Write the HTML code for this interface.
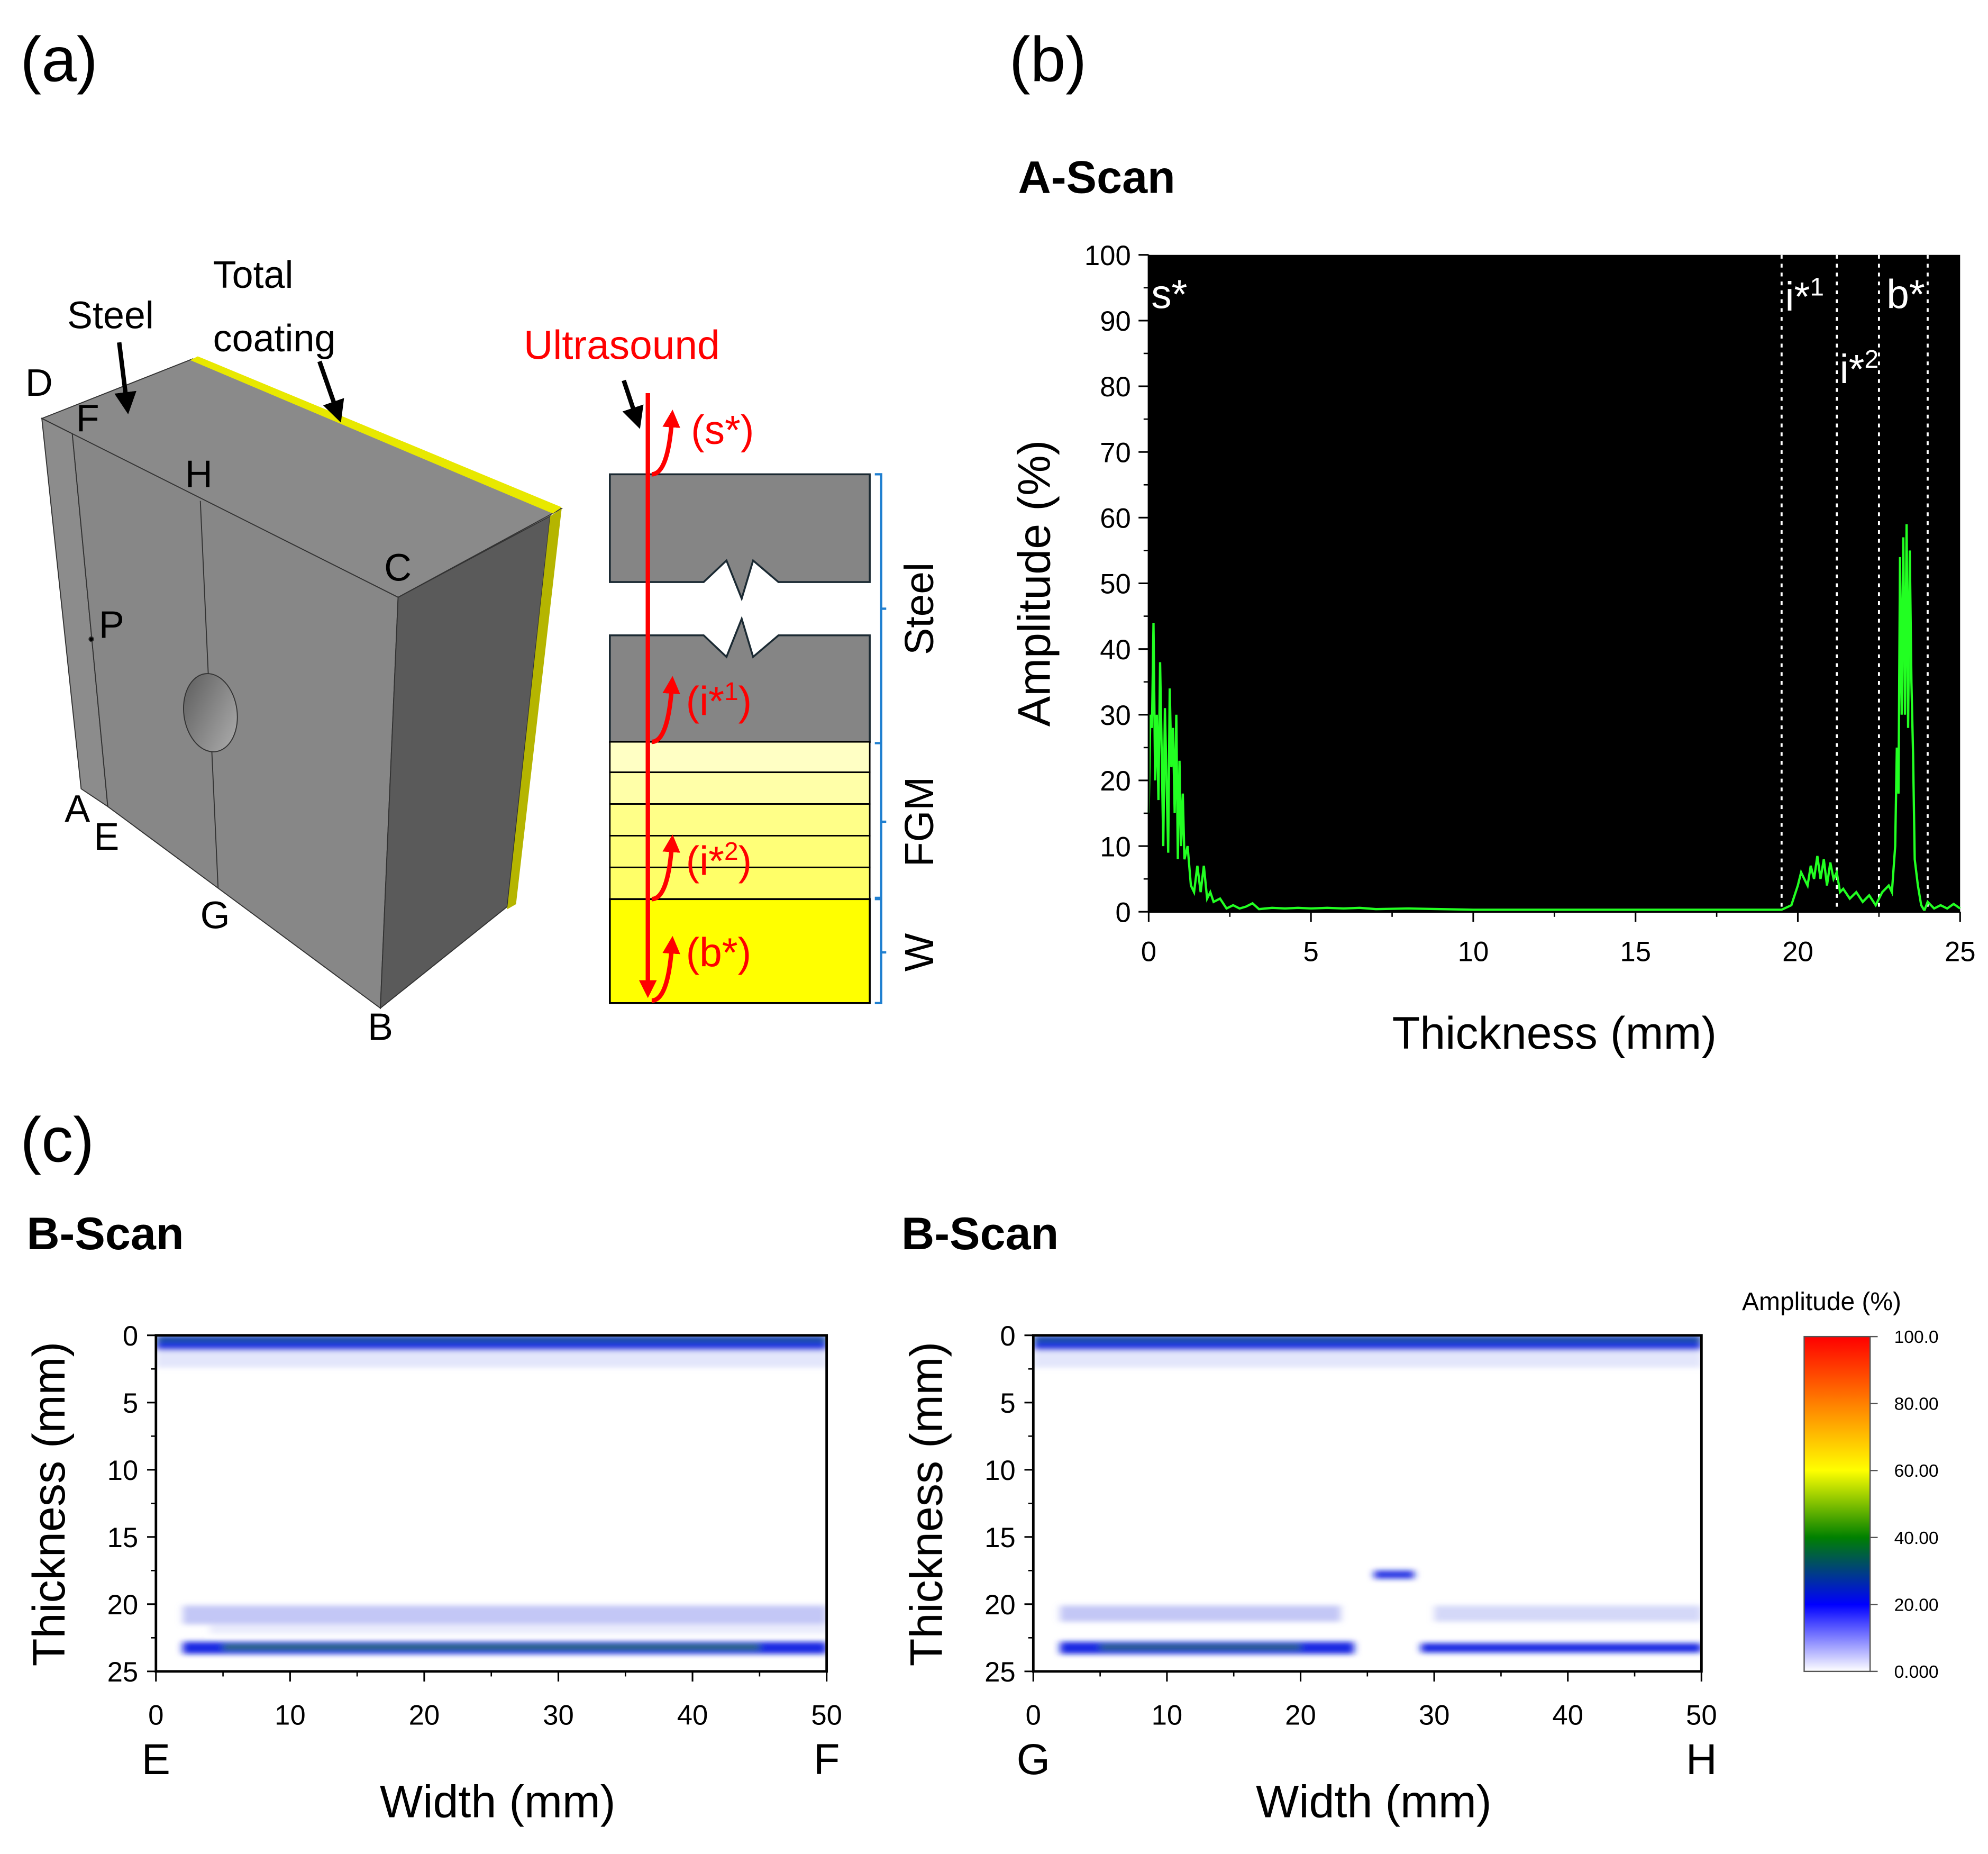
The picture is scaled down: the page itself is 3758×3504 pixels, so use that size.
<!DOCTYPE html>
<html><head><meta charset="utf-8"><style>
html,body{margin:0;padding:0;background:#fff;}
svg{display:block;font-family:"Liberation Sans",sans-serif;}
</style></head><body>
<svg id="fig" width="3758" height="3504" viewBox="0 0 1568 1462" preserveAspectRatio="none" xmlns="http://www.w3.org/2000/svg">
<defs>
<filter id="blur" filterUnits="userSpaceOnUse" x="100" y="1030" width="1300" height="320"><feGaussianBlur stdDeviation="3 2"/></filter>
<clipPath id="clipL"><rect x="123" y="1053" width="529" height="265"/></clipPath>
<clipPath id="clipR"><rect x="815" y="1053" width="527" height="265"/></clipPath>
<linearGradient id="cbar" x1="0" y1="1" x2="0" y2="0">
<stop offset="0" stop-color="#ffffff"/><stop offset="0.2" stop-color="#0000ff"/><stop offset="0.4" stop-color="#008000"/><stop offset="0.6" stop-color="#ffff00"/><stop offset="0.8" stop-color="#ff8000"/><stop offset="1" stop-color="#ff0000"/>
</linearGradient>
<linearGradient id="hole" x1="0" y1="0" x2="1" y2="1"><stop offset="0" stop-color="#5a5a5a"/><stop offset="1" stop-color="#b0b0b0"/></linearGradient>
<marker id="ah" viewBox="0 0 10 10" refX="5" refY="5" markerWidth="5" markerHeight="5" orient="auto"><path d="M0,0 L10,5 L0,10 z" fill="#000"/></marker>
<marker id="ahr" viewBox="0 0 10 10" refX="5" refY="5" markerWidth="4" markerHeight="4" orient="auto"><path d="M0,0 L10,5 L0,10 z" fill="#f00"/></marker>
</defs>

<text x="16" y="64" font-size="50">(a)</text>
<text x="796" y="64" font-size="50">(b)</text>
<text x="16" y="916" font-size="50">(c)</text>

<g stroke="#333" stroke-width="0.8">
<polygon points="33,330 152,283 443,401 314,471" fill="#8a8a8a"/>
<polygon points="150,284 156,281 443,400 436,405" fill="#e8e800" stroke="none"/>
<polygon points="33,330 57,342 85,636 64,622" fill="#8c8c8c"/>
<polygon points="57,342 314,471 300,795 85,636" fill="#878787"/>
<polygon points="314,471 434,407 400,715 300,795" fill="#5a5a5a"/>
<polygon points="434,407 443,401 407,713 400,717" fill="#b5b500" stroke="none"/>
<line x1="158" y1="395" x2="172" y2="700"/>
<ellipse cx="166" cy="562" rx="21" ry="31" transform="rotate(-8 166 562)" fill="url(#hole)"/>
<circle cx="72" cy="504" r="1.8" fill="#000"/>
</g>
<g font-size="30" fill="#000">
<text x="20" y="312">D</text><text x="60" y="340">F</text><text x="146" y="384">H</text><text x="303" y="458">C</text>
<text x="78" y="503">P</text><text x="51" y="648">A</text><text x="74" y="670">E</text><text x="158" y="732">G</text><text x="290" y="820">B</text>
<text x="53" y="259">Steel</text><text x="168" y="227">Total</text><text x="168" y="277">coating</text>
</g>
<line x1="94" y1="270" x2="100" y2="318" stroke="#000" stroke-width="3.5" marker-end="url(#ah)"/>
<line x1="252" y1="285" x2="266" y2="325" stroke="#000" stroke-width="3.5" marker-end="url(#ah)"/>

<g>
<polygon points="481,374 686,374 686,459 614,459 594,442 585,472 573,442 555,459 481,459" fill="#858585" stroke="#1b2a33" stroke-width="1.5"/>
<polygon points="481,501 555,501 573,518 585,488 594,518 614,501 686,501 686,585 481,585" fill="#858585" stroke="#1b2a33" stroke-width="1.5"/>
<rect x="481" y="585" width="205" height="24" fill="#ffffc4" stroke="#000" stroke-width="1.2"/>
<rect x="481" y="609" width="205" height="25" fill="#ffffa8" stroke="#000" stroke-width="1.2"/>
<rect x="481" y="634" width="205" height="25" fill="#ffff88" stroke="#000" stroke-width="1.2"/>
<rect x="481" y="659" width="205" height="25" fill="#ffff78" stroke="#000" stroke-width="1.2"/>
<rect x="481" y="684" width="205" height="25" fill="#ffff68" stroke="#000" stroke-width="1.2"/>
<rect x="481" y="709" width="205" height="82" fill="#ffff00" stroke="#000" stroke-width="1.5"/>
<path d="M690,374 h5 v212 h-5 M695,480 h4 M690,586 h5 v122 h-5 M695,648 h4 M690,709 h5 v82 h-5 M695,751 h4" fill="none" stroke="#1f7fd0" stroke-width="1.8"/>
<text transform="translate(736,480) rotate(-90)" text-anchor="middle" font-size="32">Steel</text>
<text transform="translate(736,648) rotate(-90)" text-anchor="middle" font-size="32">FGM</text>
<text transform="translate(736,751) rotate(-90)" text-anchor="middle" font-size="32">W</text>
<line x1="511" y1="310" x2="511" y2="780" stroke="#f00" stroke-width="3.5" marker-end="url(#ahr)"/>
<g fill="none" stroke="#f00" stroke-width="3.5" marker-end="url(#ahr)">
<path d="M514,374 Q527,374 530,330"/><path d="M514,585 Q527,585 530,540"/><path d="M514,709 Q527,709 530,665"/><path d="M514,789 Q527,789 530,745"/>
</g>
<g fill="#f00" font-size="32"><text x="413" y="283">Ultrasound</text><text x="545" y="350">(s*)</text><text x="541" y="564">(i*<tspan font-size="20" dy="-12">1</tspan><tspan dy="12">)</tspan></text><text x="541" y="690">(i*<tspan font-size="20" dy="-12">2</tspan><tspan dy="12">)</tspan></text><text x="541" y="762">(b*)</text></g>
<line x1="492" y1="300" x2="502" y2="330" stroke="#000" stroke-width="3.5" marker-end="url(#ah)"/>
</g>

<text x="803" y="152" font-size="36" font-weight="bold">A-Scan</text>
<g id="ascan"></g>

<text x="21" y="985" font-size="36" font-weight="bold">B-Scan</text>
<text x="711" y="985" font-size="36" font-weight="bold">B-Scan</text>
<g id="bscans"></g>

<g>
<text x="1374" y="1033" font-size="20">Amplitude (%)</text>
<rect x="1423" y="1054" width="52" height="264" fill="url(#cbar)" stroke="#555" stroke-width="1"/>
<g font-size="14" id="cbticks"></g>
</g>
</svg>
<script>
const NS="http://www.w3.org/2000/svg";
function mk(tag,attrs,parent,text){const e=document.createElementNS(NS,tag);for(const k in attrs)e.setAttribute(k,attrs[k]);if(text!==undefined)e.textContent=text;parent.appendChild(e);return e;}

const ascanThickness=[0,0.05,0.1,0.15,0.2,0.25,0.3,0.35,0.4,0.45,0.5,0.55,0.6,0.65,0.7,0.75,0.8,0.85,0.9,0.95,1.0,1.05,1.1,1.2,1.3,1.4,1.5,1.6,1.7,1.8,1.9,2.0,2.2,2.4,2.6,2.8,3.0,3.2,3.4,3.8,4.2,4.6,5.0,5.5,6.0,6.5,7,8,9,10,12,14,15,16,17,18,19,19.5,19.8,20.0,20.1,20.2,20.3,20.4,20.5,20.6,20.7,20.8,20.9,21.0,21.1,21.2,21.3,21.4,21.6,21.8,22.0,22.2,22.4,22.6,22.8,22.9,23.0,23.05,23.1,23.15,23.2,23.25,23.3,23.35,23.4,23.45,23.5,23.55,23.6,23.7,23.8,23.9,24.0,24.2,24.4,24.6,24.8,25];
const ascanAmplitude=[15,30,28,44,20,30,17,38,25,10,31,20,9,34,22,28,15,30,8,23,10,18,8,10,4,3,7,3,7,2,3,1.5,2,0.5,1,0.5,0.8,1.3,0.4,0.6,0.5,0.6,0.5,0.6,0.5,0.6,0.4,0.5,0.4,0.3,0.3,0.3,0.3,0.3,0.3,0.3,0.3,0.3,1,4,6,5,4,7,5,8.5,5,8,4,7.5,5,6,3,3.5,2,3,1.5,2.5,1,3,4,3,10,25,18,54,30,57,30,59,28,55,35,24,8,4,1,0.2,1.5,0.5,1,0.5,1.2,0.5];
const ascanXTicks=[0,5,10,15,20,25];
const ascanYTicks=[0,10,20,30,40,50,60,70,80,90,100];
const ascanMarkers=[19.5,21.2,22.5,24.0];

const AX={x0:906,x1:1546,y0:719,y1:201};
function ax(v){return AX.x0+(v/25)*(AX.x1-AX.x0);}
function ay(v){return AX.y0-(v/100)*(AX.y0-AX.y1);}
(function(){
const g=document.getElementById('ascan');
const bg=mk('rect',{x:AX.x0,y:AX.y1,width:AX.x1-AX.x0,height:AX.y0-AX.y1,fill:'#000'},g);


ascanMarkers.forEach(m=>{const l=mk('line',{x1:ax(m),x2:ax(m),y1:AX.y1,y2:AX.y0,stroke:'#fff','stroke-width':1.6,'stroke-dasharray':'3,4'},g);

});
const pts=ascanThickness.map((t,i)=>ax(t).toFixed(1)+','+ay(ascanAmplitude[i]).toFixed(1)).join(' ');
const line=mk('polyline',{points:pts,fill:'none',stroke:'#22ff22','stroke-width':1.8},g);


mk('line',{x1:AX.x0,x2:AX.x0,y1:AX.y1,y2:AX.y0,stroke:'#000','stroke-width':1.5},g);
mk('line',{x1:AX.x0,x2:AX.x1,y1:AX.y0,y2:AX.y0,stroke:'#000','stroke-width':1.5},g);
ascanYTicks.forEach(v=>{mk('line',{x1:AX.x0-8,x2:AX.x0,y1:ay(v),y2:ay(v),stroke:'#000','stroke-width':1.3},g);
 if(v<100)mk('line',{x1:AX.x0-4,x2:AX.x0,y1:ay(v+5),y2:ay(v+5),stroke:'#000','stroke-width':1.1},g);
 const t=mk('text',{x:AX.x0-14,y:ay(v)+8,'text-anchor':'end','font-size':22},g,String(v));
 
 });
ascanXTicks.forEach(v=>{mk('line',{x1:ax(v),x2:ax(v),y1:AX.y0,y2:AX.y0+8,stroke:'#000','stroke-width':1.3},g);
 if(v<25)mk('line',{x1:ax(v+2.5),x2:ax(v+2.5),y1:AX.y0,y2:AX.y0+4,stroke:'#000','stroke-width':1.1},g);
 const t=mk('text',{x:ax(v),y:AX.y0+39,'text-anchor':'middle','font-size':22},g,String(v));
 
 });
const yt=mk('text',{transform:'translate(828,460) rotate(-90)','text-anchor':'middle','font-size':36},g,'Amplitude (%)');


const xt=mk('text',{x:1226,y:827,'text-anchor':'middle','font-size':36},g,'Thickness (mm)');


const lbl=[['s*',906,243],['i*',1406,245],['b*',1486,243],['i*',1449,302]];
lbl.forEach((L,i)=>{const t=mk('text',{x:L[1]+2,y:L[2],fill:'#fff','font-size':32},g,L[0]);
 
 
 if(i==1||i==3){mk('tspan',{'font-size':20,dy:-12},t,i==1?'1':'2');}});
})();

// bands: [depthStart, depthEnd, widthStart, widthEnd, color, opacity]
const bscanLeftBands=[[0,1.1,0,50,'#1530e0',0.95],[0.15,0.5,0,50,'#1a6a40',0.5],[1.1,2.4,0,50,'#c8cef7',0.5],[20.1,21.5,2,50,'#8890ee',0.5],[21.5,22.2,4,50,'#d0d4f8',0.45],[22.8,23.7,2,50,'#1020e0',0.95],[23.0,23.4,5,45,'#3a8a30',0.7]];
const bscanRightBands=[[0,1.1,0,50,'#1530e0',0.95],[0.15,0.5,0,50,'#1a6a40',0.5],[1.1,2.4,0,50,'#c8cef7',0.5],[20.1,21.3,2,23,'#8890ee',0.5],[20.1,21.3,30,50,'#a0a8f0',0.45],[22.8,23.7,2,24,'#1020e0',0.95],[23.0,23.4,5,20,'#3a8a30',0.6],[22.9,23.6,29,50,'#1020e0',0.95],[17.5,18.1,25.5,28.5,'#1020e0',0.9]];
const bscanXTicks=[0,10,20,30,40,50];
const bscanYTicks=[0,5,10,15,20,25];
const colorbarTicks=['0.000','20.00','40.00','60.00','80.00','100.0'];

function drawBscan(g,X0,X1,bands,endLabels,name,clip){
 const Y0=1053,Y1=1318;
 const bx=v=>X0+(v/50)*(X1-X0), by=v=>Y0+(v/25)*(Y1-Y0);
 const outer=mk('g',{'clip-path':'url(#'+clip+')'},g);
 const cg=mk('g',{filter:'url(#blur)'},outer);
 bands.forEach(b=>{const r=mk('rect',{x:bx(b[2]),y:by(b[0]),width:bx(b[3])-bx(b[2]),height:by(b[1])-by(b[0]),fill:b[4],opacity:b[5]},cg);
  
  });
 mk('rect',{x:X0,y:Y0,width:X1-X0,height:Y1-Y0,fill:'none',stroke:'#000','stroke-width':2},g);
 bscanYTicks.forEach(v=>{mk('line',{x1:X0-7,x2:X0,y1:by(v),y2:by(v),stroke:'#000','stroke-width':1.3},g);
  if(v<25)mk('line',{x1:X0-4,x2:X0,y1:by(v+2.5),y2:by(v+2.5),stroke:'#000','stroke-width':1.1},g);
  const t=mk('text',{x:X0-14,y:by(v)+8,'text-anchor':'end','font-size':22},g,String(v));
  
  });
 bscanXTicks.forEach(v=>{mk('line',{x1:bx(v),x2:bx(v),y1:Y1,y2:Y1+8,stroke:'#000','stroke-width':1.3},g);
  if(v<50)mk('line',{x1:bx(v+5),x2:bx(v+5),y1:Y1,y2:Y1+4,stroke:'#000','stroke-width':1.1},g);
  const t=mk('text',{x:bx(v),y:Y1+42,'text-anchor':'middle','font-size':22},g,String(v));
  
  });
 mk('text',{x:bx(0),y:1399,'text-anchor':'middle','font-size':34},g,endLabels[0]);
 mk('text',{x:bx(50),y:1399,'text-anchor':'middle','font-size':34},g,endLabels[1]);
 const xt=mk('text',{x:(X0+X1)/2+5,y:1433,'text-anchor':'middle','font-size':36},g,'Width (mm)');
 
 
 const yt=mk('text',{transform:'translate('+(X0-72)+',1186) rotate(-90)','text-anchor':'middle','font-size':36},g,'Thickness (mm)');
 
 
}
const bs=document.getElementById('bscans');
const gl=mk('g',{},bs);


drawBscan(gl,123,652,bscanLeftBands,['E','F'],'bscan-ef','clipL');
const gr=mk('g',{},bs);


drawBscan(gr,815,1342,bscanRightBands,['G','H'],'bscan-gh','clipR');

const cb=document.getElementById('cbticks');
colorbarTicks.forEach((s,i)=>{const y=1318-i*(264/5);
 mk('line',{x1:1475,x2:1481,y1:y,y2:y,stroke:'#555','stroke-width':1},cb);
 const t=mk('text',{x:1494,y:y+5},cb,s);
 
 });
</script>
</body></html>
